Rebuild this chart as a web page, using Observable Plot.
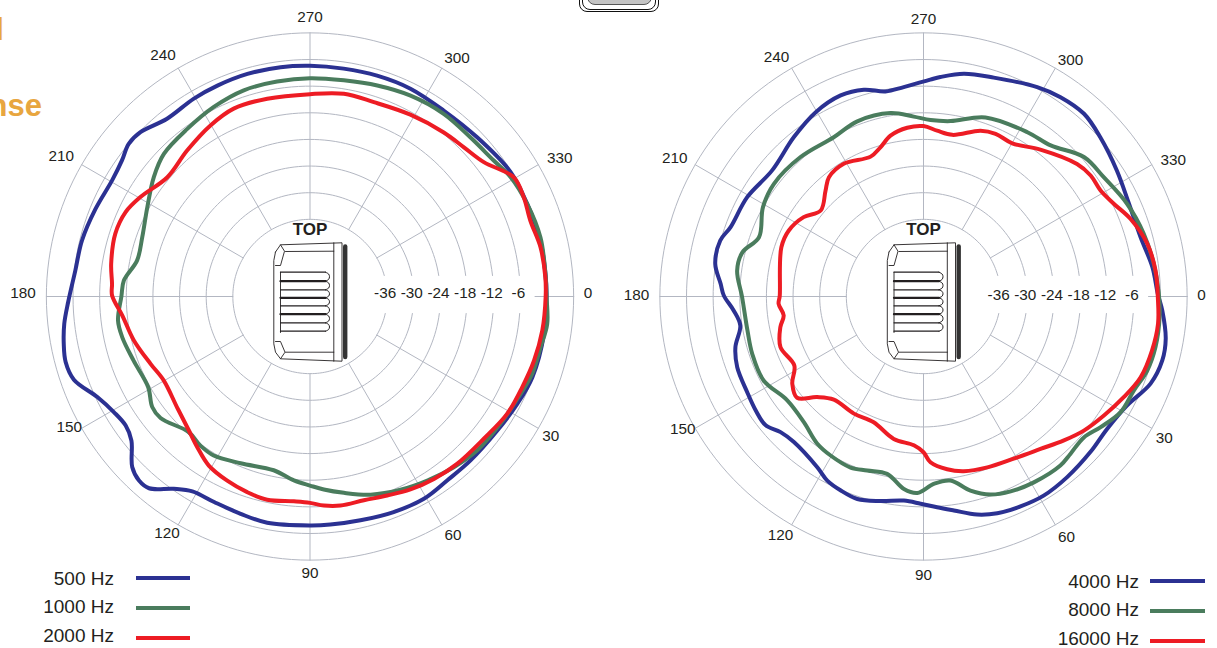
<!DOCTYPE html>
<html>
<head>
<meta charset="utf-8">
<script src="https://cdn.jsdelivr.net/npm/d3@7"></script>
<script src="https://cdn.jsdelivr.net/npm/@observablehq/plot@0.6"></script>
<style>
html,body{margin:0;padding:0;background:#fff;overflow:hidden;font-family:"Liberation Sans",Arial,sans-serif}
#page{position:relative;width:1217px;height:648px;overflow:hidden}
#page svg{position:absolute;top:0;background:transparent;max-width:none}
.heading{position:absolute;white-space:nowrap;font-weight:bold;font-size:31px;color:#E8A63F;line-height:1}
.lg{position:absolute;font-size:19px;color:#231f20;white-space:nowrap;line-height:1}
.sw{position:absolute;height:4px}
.nest{position:absolute;box-sizing:border-box}
</style>
</head>
<body>
<div id="page"></div>
<script>
// ---- 500 / 1000 / 2000 Hz (left chart): angle in degrees, level in dB ----
const hz500Angle=[0,9,20,27.4,35.6,45.6,53.3,60.6,68.8,77.3,84.9,90,100.7,107.7,115,121.1,125.3,130,132.9,136.2,141.1,145,149.5,154.7,160.6,165,169.1,173.7,178.7,186.3,193.8,202.2,210.4,215.9,220.1,224.1,231.2,239.6,246.3,254.3,262.7,270,278.4,286.9,295.8,305.7,316.4,328.2,336.9,346.3,354.5];
const hz500Db=[-0.1,0,-0.1,-0.8,-1.5,-1.7,-1.7,-1.1,-1.3,-1.7,-1.8,-1.8,-1.5,-2,-2.3,-2.1,-0.3,3,3.2,2.1,-1.7,-2.7,-2.1,-0.4,3,3.6,3.1,2.3,1.1,-0.2,-0.5,-1.2,-1.7,-1.1,0,-0.2,-2,-1.7,-1.5,-1.3,-1.3,-1.4,-1.5,-1.4,-1.4,-1.8,-1.4,-0.2,-0.2,0,-0.1];
const hz1000Angle=[0,6.6,12.4,19.2,26.3,33.8,42.6,49.9,57.5,64.9,73,80.2,85.9,90,95,101.8,112.6,121.2,126.3,131.8,140.9,145,150.7,160,167.8,172.9,180,184.9,191.8,199.5,208.7,217.4,224.3,233.8,243.1,252.2,261.3,270,278.9,287.7,296.6,306.2,315.2,323.5,329.2,336.9,345.6,354.5];
const hz1000Db=[-0.1,0.4,-0.2,-0.4,-1.3,-1.8,-2.2,-3.1,-4.2,-5.3,-6.7,-8.5,-9.8,-10.8,-11.8,-13.4,-12.7,-11.5,-11.7,-12.4,-10,-10,-11.6,-11.1,-10.1,-9.8,-10.9,-11.3,-13.6,-13.3,-11.6,-9.1,-7.4,-6.6,-5.5,-4.6,-4.4,-4.2,-4.1,-3.5,-2.8,-2.4,-2.5,-1.9,-0.8,-0.2,0.2,-0.1];
const hz2000Angle=[0,8.3,16,23.1,30.7,39.3,48.7,55.8,62.5,68.8,75.2,81.7,86.2,90,94.5,101.9,107.8,114.2,120.9,126.8,132.1,140.2,150.1,157.1,166,174.2,180.3,183.7,189.3,197.9,204.6,210.4,219.9,229.9,239.8,247.9,257.8,270,279.5,288.2,298.9,309.2,315.9,322.3,329.7,335.1,341,347.9,355.3];
const hz2000Db=[-0.3,-0.5,-0.9,-1.4,-1.7,-2.8,-3.2,-3.7,-4.4,-5.3,-5.9,-5.8,-6.2,-6.9,-7.1,-6.6,-7.1,-7.9,-9,-11,-12.7,-14.4,-15.4,-14.4,-12.5,-10.9,-8.8,-8.7,-8,-7.3,-7.7,-9.1,-11.5,-10.4,-8.8,-7.7,-7.8,-7.8,-7.1,-7.3,-6.6,-5.7,-5.1,-3.9,-0.2,-0.3,-0.9,-0.3,-0.2];
// ---- 4000 / 8000 / 16000 Hz (right chart) ----
const hz4000Angle=[3.4,9.9,15,21,28.2,35.8,43,51.5,58.9,65.2,71.2,76.2,81.9,86.3,90.8,95.5,101.9,108.1,113.2,117.6,121.9,131.7,136.5,140.9,145.8,151.5,159.2,164.9,171,175.8,180.3,183.6,188.9,195.4,199.8,209.4,219.8,230.9,239.6,247.6,253.9,259.5,264.6,271.8,274.4,280.3,287.8,298.5,304.5,311.3,318,326.9,335.7,344.7,352.7,359.4];
const hz4000Db=[0.5,2,2.3,1.4,-1.4,-2.4,-2,-1.4,-1,-1.3,-1.8,-2.8,-4.7,-5.8,-6.7,-7.2,-6.3,-5.4,-5.9,-6.6,-8.1,-9.5,-9,-7.5,-7.7,-8.2,-8.5,-9.5,-11.6,-10.5,-8.4,-7.6,-5.9,-5.9,-7.2,-7.8,-9,-7.1,-5.3,-4.4,-4.9,-6.4,-6,-4.5,-3.8,-2.4,-1.6,0.3,1.1,1.4,0.2,-1.4,-2.6,-2.7,-1.4,-0.6];
const hz8000Angle=[5,12.3,18.3,24.1,30.4,36.4,41.3,46.9,51,59.3,65.9,71.3,76.4,81.7,86.9,91.8,95.8,101.6,107.9,113.1,120.3,125.8,133.6,142.7,152.3,161.5,169.1,180,187.9,193.7,199.8,209.1,217,228.6,240.6,249.3,259.8,266.9,272.3,278.8,289.1,302.3,310.1,319,326.5,335.5,344.1,351.9,359];
const hz8000Db=[0,0.1,-0.3,-1.5,-1.9,-3.8,-5.3,-4.9,-4.4,-4.7,-5.3,-6.3,-8.4,-11.5,-11.1,-9.1,-9.8,-12.6,-12.2,-11.5,-11.9,-12.5,-14.3,-14.8,-12.7,-12.7,-13,-12.5,-11,-11.4,-14,-12,-11.2,-11.5,-12.2,-11.2,-11.4,-12.8,-13.6,-13.4,-10.7,-9.6,-8.9,-5.5,-4.7,-3,-1.8,-1,-0.4];
const hz16000Angle=[0.2,6.6,13.3,20.4,26.7,33.4,39.9,45.7,52.5,60.9,69.5,77,82.2,87.6,90,93.7,101.8,111.6,120.7,131,136.6,141.3,146.4,151.9,160.5,167.9,172.3,177.1,180.2,199.1,206.1,213.5,219.9,227.2,231.6,239,249.3,253.9,258.4,264.5,270,274.7,280.1,289,293.9,300.1,308.5,319.2,324.1,329.1,334,339.4,346.7,353.6];
const hz16000Db=[-0.6,-0.2,-0.5,-1.2,-2.9,-4.7,-6.3,-8.1,-10.1,-11.6,-12.3,-13,-14.1,-16,-18.3,-19.8,-20.6,-22.9,-22.7,-22.6,-20.4,-16.9,-17.9,-20.4,-19.2,-20.4,-21.6,-20.7,-21,-19.5,-19.6,-21,-23.2,-20.9,-19.1,-18.5,-19.7,-18.4,-16.4,-15.2,-15,-15.9,-16.4,-13.9,-13.3,-13.5,-11.1,-7.7,-6.9,-6.9,-5.7,-3.6,-1.6,-0.8];

// ---- axes ----
const angleTicks=[0,30,60,90,120,150,180,210,240,270,300,330];
const angleNudge={0:[0,-2],30:[0,1.5],60:[4,-1.5],120:[-4,-3],150:[0,-7],180:[-9,-2],210:[-8,0],240:[-8,0],300:[8,3],330:[9,2]};
const ringLevels=[6,0,-6,-12,-18,-24,-30,-36];
const labelLevels=[-36,-30,-24,-18,-12,-6];

// ---- legends and palette ----
const leftNames=["500 Hz","1000 Hz","2000 Hz"];
const rightNames=["4000 Hz","8000 Hz","16000 Hz"];
const colors=["#2B3192","#4A7C5D","#ED1C24"];

// ---- speaker outline, in px around the chart centre ----
const ribEdges=[-24.3,-15.3,-6.7,1.3,9.3,17.7,26.3,34.7];
const heavyEdges=[-15.3,1.3,17.7];
const iconLines=[
 [[-34.5,-44.5],[-29.5,-51.7],[32,-53.7],[32,64.7],[-29.5,62.3],[-34.5,55.7],[-36.2,47.3],[-36.2,-36],[-34.5,-44.5]],
 [[23.8,-53.7],[23.8,64.7]],
 [[-24.5,-45],[23.8,-45.3]],[[-24.5,55.7],[23.8,55.7]],
 [[-34.5,-31],[-29.5,-31],[-25.5,-45.3],[-29.5,-51.7]],
 [[-34.5,45],[-29.5,45],[-25,55.7],[-29.5,62.3]],
 [[-29.5,-24.3],[-29.5,36]]
];
const iconDark=[[[35.2,-50],[35.2,60.5]]];

const k=4.44, level0=237/k, cy=296, H=648;
const pol=(a,db)=>{const t=a*Math.PI/180,v=db+level0;return [v*Math.cos(t),v*Math.sin(t)];};

function chart(cx,left,W,labelDy,levelDy,angles,dbs){
  const rings=[];
  for(const lv of ringLevels){
    const r=(lv+level0)*k;
    const gapped=lv<0;
    const a0=gapped?Math.asin(17/r)*180/Math.PI:0;
    const a1=gapped?360-Math.asin(21/r)*180/Math.PI:360;
    for(let a=a0;a<a1+1e-6;a+=(a1-a0)/180){const [x,y]=pol(a,lv);rings.push({lv,x,y});}
  }
  const spokes=[];
  for(const a of angleTicks){
    const from=a===0?-2.7:-36;
    [from,6].forEach(db=>{const [x,y]=pol(a,db);spokes.push({a,x,y});});
  }
  const series=[];
  angles.forEach((as,i)=>as.forEach((a,j)=>{const [x,y]=pol(a,dbs[i][j]);series.push({i,x,y});}));
  const angLabels=angleTicks.map(a=>{
    const [x,y]=pol(a,(278/k)-level0), n=angleNudge[a]||[0,0];
    return {t:String(a),x:x+n[0]/k,y:y+(n[1]+labelDy)/k};
  });
  const lvLabels=labelLevels.map(l=>({t:String(l),x:l+level0-2/k,y:levelDy/k}));
  const ink="#231f20";
  const toPts=ls=>ls.flatMap((pts,id)=>pts.map(p=>({id,x:p[0]/k,y:p[1]/k})));
  const ribLines=edges=>toPts(edges.map(y=>[[-29.5,y],[15.5,y]]));
  const bumps=[];
  ribEdges.slice(0,-1).forEach((y,i)=>{
    const y2=ribEdges[i+1];
    [[15.5,y],[18.6,y+(y2-y)*0.2],[19.5,(y+y2)/2],[18.6,y+(y2-y)*0.8],[15.5,y2]].forEach(p=>bumps.push({id:i,x:p[0]/k,y:p[1]/k}));
  });
  return Plot.plot({
    width:W,height:H,margin:0,
    style:{background:"transparent",fontFamily:"'Liberation Sans',Arial,sans-serif",left:left+"px"},
    x:{domain:[-cx/k,(W-cx)/k],range:[0,W],axis:null},
    y:{domain:[-cy/k,(H-cy)/k],range:[0,H],axis:null},
    marks:[
      Plot.line(rings,{x:"x",y:"y",z:"lv",stroke:"#B3B7C2",strokeWidth:1}),
      Plot.line(spokes,{x:"x",y:"y",z:"a",stroke:"#B3B7C2",strokeWidth:1}),
      Plot.line(series,{x:"x",y:"y",z:"i",stroke:d=>colors[d.i],curve:"catmull-rom-closed",strokeWidth:4,strokeLinejoin:"round"}),
      Plot.line(toPts(iconLines),{x:"x",y:"y",z:"id",stroke:ink,strokeWidth:0.9}),
      Plot.line(ribLines(ribEdges),{x:"x",y:"y",z:"id",stroke:ink,strokeWidth:1.2}),
      Plot.line(ribLines(heavyEdges),{x:"x",y:"y",z:"id",stroke:ink,strokeWidth:2.2}),
      Plot.line(bumps,{x:"x",y:"y",z:"id",stroke:ink,strokeWidth:1,curve:"catmull-rom"}),
      Plot.line(toPts(iconDark),{x:"x",y:"y",z:"id",stroke:"#333",strokeWidth:4.4}),
      Plot.text(angLabels,{x:"x",y:"y",text:"t",fill:ink,fontSize:15.3}),
      Plot.text(lvLabels,{x:"x",y:"y",text:"t",fill:ink,fontSize:15.3}),
      Plot.text(["TOP"],{x:[0],y:[-66.5/k],text:d=>d,fill:ink,fontSize:17,fontWeight:"bold"})
    ]
  });
}

const page=document.getElementById("page");
function heading(t,right,top){
  const d=document.createElement("div");d.className="heading";d.textContent=t;
  d.style.right=(1217-right)+"px";d.style.top=top+"px";page.appendChild(d);
}
heading("Horizontal",4,14);
heading("Polar Response",42,90);

[[579,-22,80,34,"#111","#fff"],[582,-22,74,31.5,"#111","#fff"],[587,-22,65,27,"#555","#c4c4c4"]].forEach(b=>{
  const d=document.createElement("div");d.className="nest";
  d.style.cssText=`left:${b[0]}px;top:${b[1]}px;width:${b[2]}px;height:${b[3]}px;border:1.4px solid ${b[4]};background:${b[5]};border-radius:8px`;
  page.appendChild(d);
});

page.appendChild(chart(309.5,0,610,-1,-3,[hz500Angle,hz1000Angle,hz2000Angle],[hz500Db,hz1000Db,hz2000Db]));
page.appendChild(chart(313,610,607,1,-1,[hz4000Angle,hz8000Angle,hz16000Angle],[hz4000Db,hz8000Db,hz16000Db]));

function legend(names,textRight,swX,swW,textYs,swYs){
  names.forEach((n,i)=>{
    const t=document.createElement("div");t.className="lg";t.textContent=n;
    t.style.right=(1217-textRight)+"px";t.style.top=(textYs[i]-9.5)+"px";page.appendChild(t);
    const s=document.createElement("div");s.className="sw";
    s.style.left=swX+"px";s.style.width=swW+"px";s.style.top=(swYs[i]-2)+"px";s.style.background=colors[i];page.appendChild(s);
  });
}
legend(leftNames,114,136,54,[578,606.7,635],[578,607.5,637.5]);
legend(rightNames,1139,1150,55,[581.5,609.5,638],[581,610.5,640.5]);
</script>
</body>
</html>
